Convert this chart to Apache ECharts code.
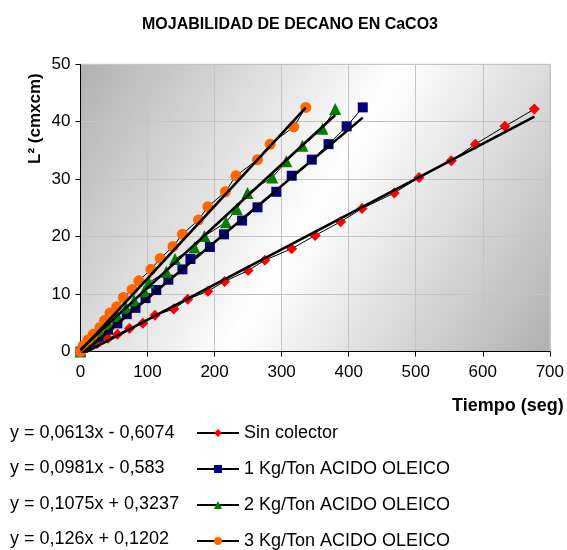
<!DOCTYPE html>
<html>
<head>
<meta charset="utf-8">
<script src="https://cdn.jsdelivr.net/npm/echarts@6/dist/echarts.min.js"></script>
<style>
    html, body { margin: 0; padding: 0; background: #fff; }
    #chart { width: 567px; height: 550px; }
</style>
</head>
<body>
<div id="chart"></div>
<script>
    // datos
    const names = ['Sin colector', '1 Kg/Ton ACIDO OLEICO', '2 Kg/Ton ACIDO OLEICO', '3 Kg/Ton ACIDO OLEICO']
    const equations = ['y = 0,0613x - 0,6074', 'y = 0,0981x - 0,583', 'y = 0,1075x + 0,3237', 'y = 0,126x + 0,1202']
    const slopes = [0.0613, 0.0981, 0.1075, 0.126]
    const intercepts = [-0.6074, -0.583, 0.3237, 0.1202]

    const sinX = [0, 10, 25, 41, 55, 73, 93, 111, 139, 160, 190, 215, 250, 275, 315, 350, 388, 420, 468, 505, 553, 589, 633, 677]
    const sinY = [0, 0.7, 1.4, 2.3, 3.0, 4.0, 4.9, 6.3, 7.4, 9.1, 10.5, 12.2, 14.1, 15.9, 17.9, 20.2, 22.6, 24.9, 27.6, 30.3, 33.2, 36.1, 39.2, 42.2]

    const kg1X = [0, 14, 27, 41, 55, 69, 82, 97, 113, 131, 152, 164, 193, 214, 241, 264, 292, 315, 345, 370, 397, 421]
    const kg1Y = [0, 1.3, 2.6, 3.8, 4.9, 6.5, 7.6, 9.3, 10.7, 12.5, 14.3, 16.1, 18.2, 20.4, 22.8, 25.1, 27.8, 30.6, 33.4, 36.1, 39.2, 42.5]

    const kg2X = [0, 8, 18, 30, 42, 55, 68, 80, 95, 102, 128, 141, 170, 185, 217, 233, 249, 286, 307, 331, 361, 380]
    const kg2Y = [0, 1.0, 2.2, 3.5, 4.8, 6.2, 7.6, 8.9, 10.5, 12.0, 13.9, 16.1, 18.1, 20.1, 22.5, 24.8, 27.6, 30.3, 33.1, 35.8, 38.8, 42.2]

    const kg3X = [0, 4, 11, 19, 29, 36, 44, 54, 64, 77, 87, 105, 119, 138, 152, 176, 190, 216, 232, 264, 283, 318, 336]
    const kg3Y = [0, 1.0, 2.0, 3.0, 4.2, 5.4, 6.7, 7.8, 9.4, 10.8, 12.3, 14.3, 16.2, 18.3, 20.4, 22.9, 25.2, 27.8, 30.6, 33.4, 36.1, 39.1, 42.5]

    const xTicks = [0, 700, 100]
    const yTicks = [0, 50, 10]

    const allX = [sinX, kg1X, kg2X, kg3X]
    const allY = [sinY, kg1Y, kg2Y, kg3Y]
    const colors = ['#ff0000', '#000080', '#008000', '#ff6600']
    const symbols = ['diamond', 'rect', 'triangle', 'circle']
    const symbolSizes = [11, 10, 12, 11]
    const fontFam = 'Arial, "Liberation Sans", sans-serif'

    const chartInstance = echarts.init(document.getElementById('chart'))

    const series = []
    allX.forEach((xs, i) => {
        series.push({
            name: names[i],
            type: 'line',
            data: xs.map((x, k) => [x, allY[i][k]]),
            symbol: symbols[i],
            symbolSize: symbolSizes[i],
            itemStyle: { color: colors[i] },
            lineStyle: { color: '#000', width: 1 },
            z: 3
        })
    })
    // lineas de tendencia
    allX.forEach((xs, i) => {
        const x0 = xs[0]
        const x1 = xs[xs.length - 1]
        series.push({
            name: 'trend' + i,
            type: 'line',
            data: [[x0, slopes[i] * x0 + intercepts[i]], [x1, slopes[i] * x1 + intercepts[i]]],
            symbol: 'none',
            lineStyle: { color: '#000', width: 2.6 },
            silent: true,
            z: 4
        })
    })

    const option = {
        animation: false,
        textStyle: { fontFamily: fontFam },
        title: {
            text: 'MOJABILIDAD DE DECANO EN CaCO3',
            left: 285,
            top: 12,
            textAlign: 'center',
            textStyle: { fontSize: 16, fontWeight: 'bold', color: '#000' }
        },
        grid: {
            left: 80.5,
            right: 14.7,
            top: 64.3,
            bottom: 198.5,
            show: true,
            borderColor: '#c0c0c0',
            borderWidth: 1,
            backgroundColor: new echarts.graphic.LinearGradient(0, 0, 1, 1, [
                { offset: 0, color: '#b0b0b0' },
                { offset: 0.5, color: '#ffffff' },
                { offset: 1, color: '#b0b0b0' }
            ])
        },
        xAxis: {
            type: 'value',
            min: xTicks[0],
            max: xTicks[1],
            interval: xTicks[2],
            axisLine: { show: true, lineStyle: { color: '#000', width: 1 } },
            axisTick: { show: true, length: 5, lineStyle: { color: '#000' } },
            axisLabel: { fontSize: 17, color: '#000', margin: 12 },
            splitLine: { show: true, lineStyle: { color: '#c4c4c4', width: 1 } }
        },
        yAxis: {
            type: 'value',
            min: yTicks[0],
            max: yTicks[1],
            interval: yTicks[2],
            axisLine: { show: true, lineStyle: { color: '#000', width: 1 } },
            axisTick: { show: true, length: 5, lineStyle: { color: '#000' } },
            axisLabel: { fontSize: 17, color: '#000', margin: 10 },
            splitLine: { show: true, lineStyle: { color: '#c4c4c4', width: 1 } }
        },
        legend: {
            data: names,
            orient: 'vertical',
            left: 196,
            top: 424,
            padding: 0,
            itemWidth: 42,
            itemHeight: 10,
            itemGap: 18,
            textStyle: { fontSize: 18, color: '#000' }
        },
        graphic: [
            {
                type: 'text',
                left: 452,
                top: 397,
                style: { text: 'Tiempo (seg)', font: 'bold 18px ' + fontFam, fill: '#000' }
            },
            {
                type: 'text',
                x: 27,
                y: 164,
                rotation: Math.PI / 2,
                style: { text: 'L² (cmxcm)', font: 'bold 17px ' + fontFam, fill: '#000' }
            },
            ...equations.map((t, i) => ({
                type: 'text',
                left: 10,
                top: 424 + i * 35.5,
                style: { text: t, font: '18px ' + fontFam, fill: '#000' }
            }))
        ],
        series: series
    }
    chartInstance.setOption(option)
</script>
</body>
</html>
